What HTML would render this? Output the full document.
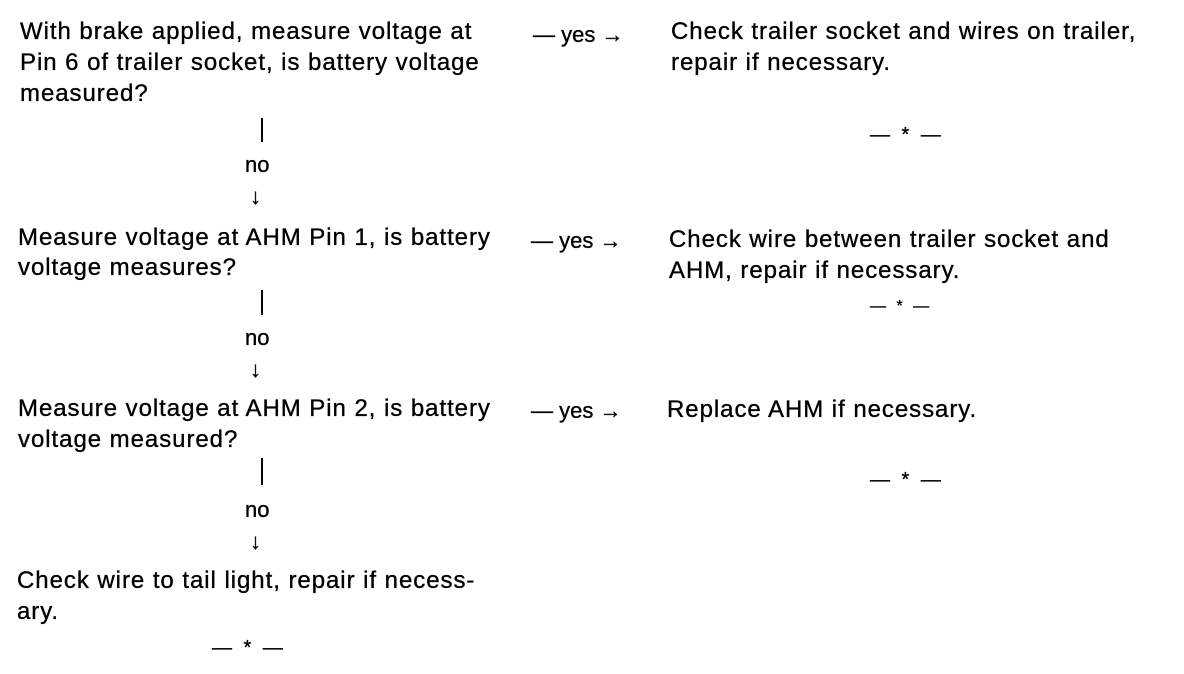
<!DOCTYPE html>
<html><head><meta charset="utf-8"><style>
body{margin:0;background:#fff;}
#c{position:relative;width:1184px;height:674px;overflow:hidden;background:#fff;font-family:"Liberation Sans",Arial,sans-serif;font-size:24px;color:#000;-webkit-text-stroke:0.35px #000;}
#c div{position:absolute;white-space:nowrap;line-height:30px;}
.t{letter-spacing:0.95px;}
.y{font-size:22px;}
.s{font-size:20px;letter-spacing:3px;}
.v{width:2px;background:#000;}
</style></head><body><div id="c">
<div class="t" style="left:20px;top:17px">With brake applied, measure voltage at</div>
<div class="t" style="left:20px;top:48px">Pin 6 of trailer socket, is battery voltage</div>
<div class="t" style="left:20px;top:79px">measured?</div>
<div class="y" style="left:533px;top:20px">— yes →</div>
<div class="t" style="left:671px;top:17px">Check trailer socket and wires on trailer,</div>
<div class="t" style="left:671px;top:48px">repair if necessary.</div>
<div class="s" style="left:870px;top:120px">— * —</div>
<div class="v" style="left:261px;top:118px;height:24px"></div>
<div class="y" style="left:245px;top:150px">no</div>
<div class="y" style="left:250px;top:182px">↓</div>

<div class="t" style="left:18px;top:223px">Measure voltage at AHM Pin 1, is battery</div>
<div class="t" style="left:18px;top:253px">voltage measures?</div>
<div class="y" style="left:531px;top:226px">— yes →</div>
<div class="t" style="left:669px;top:225px">Check wire between trailer socket and</div>
<div class="t" style="left:669px;top:256px">AHM, repair if necessary.</div>
<div class="s" style="left:870px;top:292px;font-size:16px">— * —</div>
<div class="v" style="left:261px;top:290px;height:25px"></div>
<div class="y" style="left:245px;top:323px">no</div>
<div class="y" style="left:250px;top:355px">↓</div>

<div class="t" style="left:18px;top:394px">Measure voltage at AHM Pin 2, is battery</div>
<div class="t" style="left:18px;top:425px">voltage measured?</div>
<div class="y" style="left:531px;top:396px">— yes →</div>
<div class="t" style="left:667px;top:395px">Replace AHM if necessary.</div>
<div class="s" style="left:870px;top:465px">— * —</div>
<div class="v" style="left:261px;top:458px;height:27px"></div>
<div class="y" style="left:245px;top:495px">no</div>
<div class="y" style="left:250px;top:527px">↓</div>

<div class="t" style="left:17px;top:566px">Check wire to tail light, repair if necess-</div>
<div class="t" style="left:17px;top:597px">ary.</div>
<div class="s" style="left:212px;top:633px">— * —</div>
</div></body></html>
